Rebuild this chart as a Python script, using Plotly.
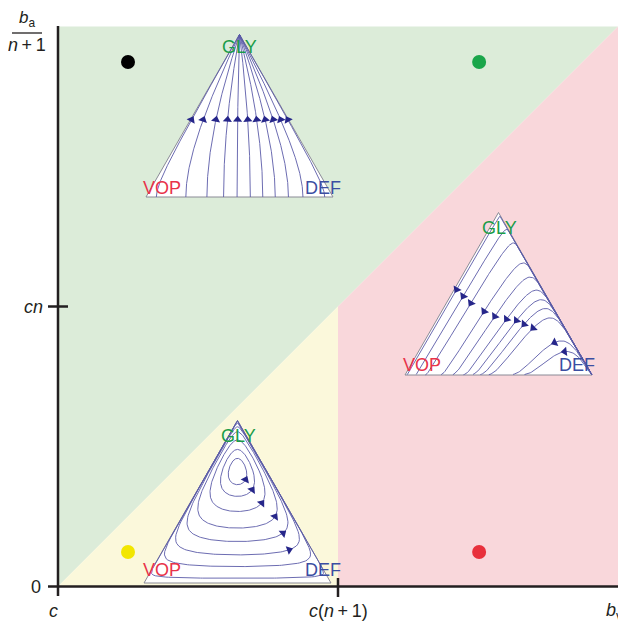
import numpy as np
import plotly.graph_objects as go

# ------------------------------------------------------------------ data
# parameter plane: x = b_v (c -> 0, c(n+1) -> 1), y = b_a/(n+1) (0 -> 0, cn -> 1)
x_tick_vals = [0.0, 1.0]
x_tick_text = ["<i>c</i>", "<i>c</i>(<i>n</i>\u2009+\u20091)"]
y_tick_vals = [0.0, 1.0]
y_tick_text = ["0", "<i>cn</i>"]
x_end = 2.0
y_end = 2.0
x_end_label = "<i>b</i><sub>v</sub>"
y_end_num = "<i>b</i><sub>a</sub>"
y_end_den = "<i>n</i>\u2009+\u20091"

# example points (marker dots)
dot_x = [0.25, 1.504, 0.25, 1.504]
dot_y = [1.873, 1.873, 0.123, 0.123]
dot_colors = ["#000000", "#1aa64a", "#f2e600", "#e8303c"]

# top inset (GLY takes over): arrow positions across the triangle at one height
gly_arrow_u = [0.244, 0.306, 0.374, 0.436, 0.49, 0.544, 0.592, 0.637, 0.68, 0.72, 0.76]
gly_arrow_s = 0.476

# right inset (VOP takes over): arrow positions (u across, s height)
vop_arrow_u = [0.276, 0.311, 0.352, 0.423, 0.48, 0.543, 0.596, 0.637, 0.685, 0.80, 0.854]
vop_arrow_s = [0.526, 0.485, 0.443, 0.392, 0.361, 0.344, 0.336, 0.313, 0.289, 0.20, 0.144]
vop_rates = (1.0, 0.08, 0.02)  # GLY->VOP, DEF->GLY, DEF->VOP

# bottom inset (cycles): interior point (VOP, DEF, GLY), loop lowest points, arrow heights
cyc_center = (0.155, 0.155, 0.69)
cyc_bottom_s = [0.605, 0.533, 0.44, 0.338, 0.255, 0.173, 0.101, 0.029]
cyc_arrow_s = [0.636, 0.574, 0.492, 0.409, 0.307, 0.204]

# ------------------------------------------------------------------ geometry (layout)
# page has an 8px body margin: the figure is placed at (8, 8) in the window
PAGE_OFF = 8.0
FIG_W, FIG_H = 626 - int(PAGE_OFF), 625 - int(PAGE_OFF)
PXU, OX, OY = 280.0, 58.0, 586.5
def dx(px): return (np.asarray(px, dtype=float) - OX) / PXU
def dy(py): return (OY - np.asarray(py, dtype=float)) / PXU

W_PX, H_PX = 187.0, 162.5
INSET_TOP = (146.0, 197.0)
INSET_RIGHT = (405.0, 375.0)
INSET_BOTTOM = (144.0, 583.0)

def loc(inset, u, s):
    bx, by = inset
    return dx(bx + np.asarray(u) * W_PX), dy(by - np.asarray(s) * H_PX)

def scr_angle(du, ds):
    return float(np.degrees(np.arctan2(du * W_PX, ds * H_PX)))

FONT = "Liberation Sans, Arial, sans-serif"
LINE_C = "#5b5ba8"
ARROW_C = "#26268a"
EDGE_C = "#8a8a96"

fig = go.Figure()

# ------------------------------------------------------------------ regions
xm, ym = x_tick_vals[1], y_tick_vals[1]
regions = [
    ([0, 0, x_end, 0], [0, y_end, y_end, 0], "#dcecd9"),
    ([0, xm, xm, 0], [0, ym, 0, 0], "#fbf8db"),
    ([xm, xm, x_end, x_end, xm], [0, ym, y_end, 0, 0], "#f9d7db"),
]
for xs, ys, col in regions:
    fig.add_trace(go.Scatter(x=xs, y=ys, fill="toself", fillcolor=col, mode="none",
                             hoverinfo="skip", showlegend=False))

# ------------------------------------------------------------------ triangles
def add_triangle(inset):
    X, Y = loc(inset, [0, 1, 0.5, 0], [0, 0, 1, 0])
    fig.add_trace(go.Scatter(x=X, y=Y, fill="toself", fillcolor="white", mode="lines",
                             line=dict(color=EDGE_C, width=1), hoverinfo="skip", showlegend=False))

for ins in (INSET_TOP, INSET_RIGHT, INSET_BOTTOM):
    add_triangle(ins)

def add_curve(inset, u, s):
    X, Y = loc(inset, u, s)
    fig.add_trace(go.Scatter(x=X, y=Y, mode="lines", line=dict(color=LINE_C, width=0.9),
                             hoverinfo="skip", showlegend=False))

def add_arrows(inset, us, ss, angs):
    X, Y = loc(inset, us, ss)
    fig.add_trace(go.Scatter(x=X, y=Y, mode="markers",
                             marker=dict(symbol="triangle-up", size=8, color=ARROW_C,
                                         angle=angs, line=dict(width=0)),
                             hoverinfo="skip", showlegend=False))

# ------------------------------------------------------------------ top inset
def gly_u(r0, s):
    a = 1.0 / (1.0 - abs(r0))
    r = r0 * (1 + a * s) / (1 + a * abs(r0) * s)
    return 0.5 + 0.5 * (1 - s) * r

def solve_r0(ra, sa):
    t = abs(ra); lo, hi = 0.0, 0.99999
    for _ in range(80):
        m = 0.5 * (lo + hi); a = 1 / (1 - m)
        v = m * (1 + a * sa) / (1 + a * m * sa)
        if v < t: lo = m
        else: hi = m
    return np.copysign(0.5 * (lo + hi), ra) if ra != 0 else 0.0

sg = np.linspace(0, 1, 300)
au, asl, aang = [], [], []
for ua in gly_arrow_u:
    ra = np.clip((ua - 0.5) / (0.5 * (1 - gly_arrow_s)), -0.985, 0.985)
    r0 = solve_r0(ra, gly_arrow_s)
    add_curve(INSET_TOP, gly_u(r0, sg), sg)
    e = 1e-4
    d = (gly_u(r0, gly_arrow_s + e) - gly_u(r0, gly_arrow_s - e)) / (2 * e)
    au.append(gly_u(r0, gly_arrow_s)); asl.append(gly_arrow_s); aang.append(scr_angle(d, 1.0))
add_arrows(INSET_TOP, au, asl, aang)

# ------------------------------------------------------------------ right inset
kGV, kDG, kVD = vop_rates
def rep2(p):
    x, y, z = p
    return np.array([x * (kVD * y + kGV * z), y * (-kVD * x - kDG * z), z * (-kGV * x + kDG * y)])

def ndir(field, p, sign):
    v = field(p)
    du = v[1] + 0.5 * v[2]; ds = v[2]
    sp = np.hypot(du * W_PX, ds * H_PX) + 1e-15
    return sign * v / sp

def trace(field, p0, sign, h, stop, nmax=5000):
    pts = [p0.copy()]; p = p0.copy()
    for _ in range(nmax):
        k1 = ndir(field, p, sign)
        k2 = ndir(field, p + 0.5 * h * k1, sign)
        k3 = ndir(field, p + 0.5 * h * k2, sign)
        k4 = ndir(field, p + h * k3, sign)
        p = p + h * (k1 + 2 * k2 + 2 * k3 + k4) / 6
        p = np.clip(p, 1e-12, None); p = p / p.sum()
        pts.append(p.copy())
        if stop(p): break
    return np.array(pts)

def bary(u, s):
    z = s; y = u - 0.5 * s; x = 1 - u - 0.5 * s
    return np.array([x, y, z])

au, asl, aang = [], [], []
for ua, sa in zip(vop_arrow_u, vop_arrow_s):
    p0 = bary(ua, sa)
    back = trace(rep2, p0, -1, 1.2, lambda p: p[1] > 0.992)
    fwd = trace(rep2, p0, 1, 1.2, lambda p: p[2] < 0.004)
    pts = np.vstack([back[::-1], fwd[1:]])
    u = pts[:, 1] + 0.5 * pts[:, 2]; s = pts[:, 2]
    add_curve(INSET_RIGHT, u, s)
    v = rep2(p0)
    au.append(ua); asl.append(sa); aang.append(scr_angle(v[1] + 0.5 * v[2], v[2]))
add_arrows(INSET_RIGHT, au, asl, aang)

# ------------------------------------------------------------------ bottom inset
w = np.array(cyc_center)
def logH(u, s):
    b = bary(u, s)
    if np.any(b <= 0): return -np.inf
    return float(np.sum(w * np.log(b)))

def inside(u, s):
    return np.all(bary(u, s) > 0)

uc, sc = w[1] + 0.5 * w[2], w[2]
aC = w[2] / w[0]
def rep3(p):
    x, y, z = p
    return np.array([x * (-aC * y + z), y * (aC * x - z), z * (-x + y)])

thetas = np.linspace(0, 2 * np.pi, 361)
levels = [logH(uc, sb) for sb in cyc_bottom_s]
for lev in levels:
    us, ss = [], []
    for th in thetas:
        c, sn = np.cos(th), np.sin(th)
        f = lambda r: (uc + r * c / W_PX, sc + r * sn / H_PX)
        lo, hi = 0.0, 400.0
        for _ in range(45):
            m = 0.5 * (lo + hi)
            if inside(*f(m)): lo = m
            else: hi = m
        lo2, hi2 = 0.0, lo
        for _ in range(50):
            m = 0.5 * (lo2 + hi2)
            if logH(*f(m)) > lev: lo2 = m
            else: hi2 = m
        uu, s_ = f(lo2)
        us.append(uu); ss.append(s_)
    add_curve(INSET_BOTTOM, us, ss)

au, asl, aang = [], [], []
for lev, sa in zip(levels, cyc_arrow_s):
    lo, hi = uc, 1 - 0.5 * sa - 1e-12
    for _ in range(60):
        m = 0.5 * (lo + hi)
        if logH(m, sa) > lev: lo = m
        else: hi = m
    v = rep3(bary(lo, sa))
    au.append(lo); asl.append(sa); aang.append(scr_angle(v[1] + 0.5 * v[2], v[2]))
add_arrows(INSET_BOTTOM, au, asl, aang)

# ------------------------------------------------------------------ dots
fig.add_trace(go.Scatter(x=dot_x, y=dot_y, mode="markers",
                         marker=dict(size=14, color=dot_colors, line=dict(width=0)),
                         hoverinfo="skip", showlegend=False))

# ------------------------------------------------------------------ inset labels
lab_specs = [
    ((239, 47), (162, 188), (323, 188)),
    ((499, 228), (422, 365), (577, 365)),
    ((238, 436), (162, 570), (323, 570)),
]
ann = []
for g, vp, df in lab_specs:
    for (px, py), txt, col in ((g, "GLY", "#1a9c48"), (vp, "VOP", "#e8334a"), (df, "DEF", "#3b4ea2")):
        ann.append(dict(x=float(dx(px)), y=float(dy(py)), text=txt, showarrow=False,
                        font=dict(family=FONT, size=18, color=col), xanchor="center", yanchor="middle"))

# ------------------------------------------------------------------ axis labels
AX_C = "#231f20"
def lab(x, y, text, anchor="center", size=18):
    ann.append(dict(x=float(x), y=float(y), text=text, showarrow=False,
                    font=dict(family=FONT, size=size, color=AX_C), xanchor=anchor, yanchor="middle"))

lab(dx(53), dy(611), x_tick_text[0])
lab(x_tick_vals[1], dy(611), x_tick_text[1])
lab(dx(604), dy(611), x_end_label, anchor="left")
lab(dx(36), y_tick_vals[0], y_tick_text[0])
lab(dx(33), y_tick_vals[1], y_tick_text[1])
lab(dx(27), dy(19), y_end_num, size=17)
lab(dx(27), dy(45), y_end_den)

shapes = [
    dict(type="line", x0=float(dx(12)), x1=float(dx(42)), y0=float(dy(33)), y1=float(dy(33)),
         line=dict(color=AX_C, width=1.3), layer="above"),
    dict(type="line", x0=0, x1=0, y0=float(dy(596)), y1=float(dy(26)),
         line=dict(color=AX_C, width=2.5), layer="above"),
    dict(type="line", x0=float(dx(48)), x1=float(dx(619)), y0=0, y1=0,
         line=dict(color=AX_C, width=2.5), layer="above"),
    dict(type="line", x0=float(dx(48)), x1=float(dx(68)), y0=y_tick_vals[1], y1=y_tick_vals[1],
         line=dict(color=AX_C, width=2.5), layer="above"),
    dict(type="line", x0=x_tick_vals[1], x1=x_tick_vals[1], y0=float(dy(578)), y1=float(dy(597)),
         line=dict(color=AX_C, width=2.5), layer="above"),
]

fig.update_layout(
    width=FIG_W, height=FIG_H, autosize=False,
    margin=dict(l=0, r=0, t=0, b=0),
    plot_bgcolor="white", paper_bgcolor="white",
    xaxis=dict(range=[float(dx(PAGE_OFF)), float(dx(626))], visible=False, fixedrange=True),
    yaxis=dict(range=[float(dy(625)), float(dy(PAGE_OFF))], visible=False, fixedrange=True),
    annotations=ann, shapes=shapes, showlegend=False, hovermode=False,
)
fig.write_html("out.html")
